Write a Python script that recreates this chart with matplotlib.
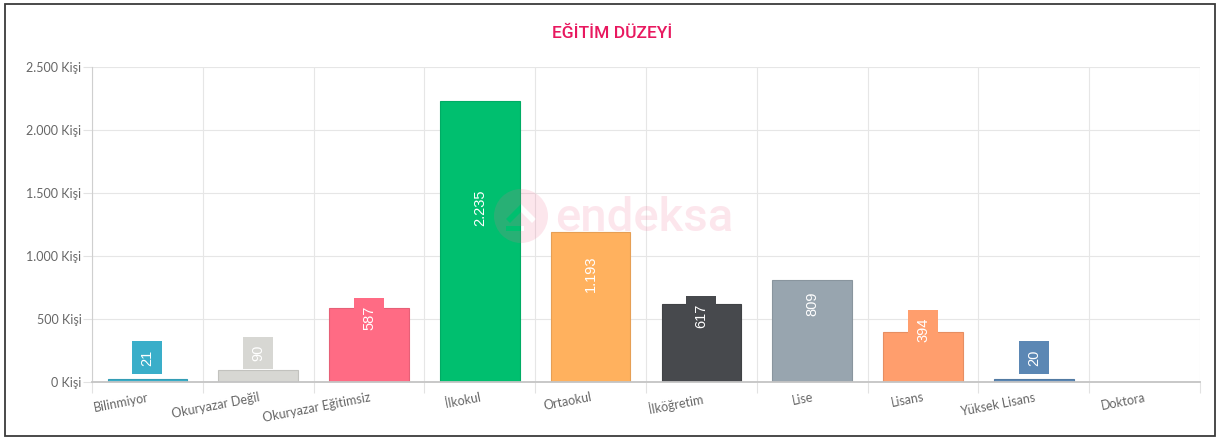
import matplotlib
matplotlib.use("Agg")
import matplotlib.pyplot as plt
from matplotlib.patches import Rectangle, PathPatch
from matplotlib.path import Path
from matplotlib.ticker import FixedLocator, FuncFormatter
import numpy as np

categories = ["Bilinmiyor", "Okuryazar Değil", "Okuryazar Eğitimsiz", "İlkokul",
              "Ortaokul", "İlköğretim", "Lise", "Lisans", "Yüksek Lisans", "Doktora"]
values = [21, 90, 587, 2235, 1193, 617, 809, 394, 20, 0]
colors = ["#3aaec9", "#d7d7d3", "#ff6b84", "#00bf6f", "#ffb15e",
          "#47494d", "#98a5af", "#ff9e6d", "#5b87b4", "#e6e6e6"]
y_ticks = [0, 500, 1000, 1500, 2000, 2500]
title = "EĞİTİM DÜZEYİ"

def fmt_num(v):
    return f"{v:,}".replace(",", ".")

W, H = 1224, 440
fig = plt.figure(figsize=(W / 100, H / 100), dpi=100)
fig.patch.set_facecolor("white")

# outer border
fig.add_artist(Rectangle((5 / W, 4 / H), 1210 / W, 432 / H, transform=fig.transFigure,
                         fill=False, edgecolor="#3a3a3a", linewidth=1.3))

ax = fig.add_axes([92 / W, (H - 381.5) / H, (1200 - 92) / W, (381.5 - 67.3) / H])
x = np.arange(len(categories))

def darker(c, f=0.9):
    r, g, b = matplotlib.colors.to_rgb(c)
    return (r * f, g * f, b * f)

ax.bar(x, values, width=0.72, color=colors,
       edgecolor=[darker(c) for c in colors], linewidth=0.8, zorder=3)

for xi, v, c in zip(x, values, colors):
    if v <= 0:
        continue
    ax.annotate(fmt_num(v), xy=(xi, v / 2), xytext=(0, 10.5), textcoords="offset points",
                rotation=90, ha="center", va="bottom", color="white", fontsize=10.5,
                family="Liberation Sans", zorder=5,
                bbox=dict(boxstyle="square,pad=0.55", facecolor=c, edgecolor="none"))

ax.set_xlim(-0.5, len(categories) - 0.5)
ax.set_ylim(0, 2500)
ax.yaxis.set_major_locator(FixedLocator(y_ticks))
ax.yaxis.set_major_formatter(FuncFormatter(lambda v, p: f"{fmt_num(int(v))} Kişi"))
ax.set_xticks(x)
ax.set_xticklabels(categories, rotation=11, ha="right", rotation_mode="anchor",
                   fontsize=9, color="#666666", family="Lato")
ax.set_xticks(np.arange(len(categories) + 1) - 0.5, minor=True)

for lab in ax.get_yticklabels():
    lab.set_family("Lato")
ax.tick_params(axis="y", labelsize=9, labelcolor="#666666", length=6.5, width=0.8,
               color="#e2e2e2", pad=1)
ax.tick_params(axis="x", which="major", length=0, pad=7)
ax.tick_params(axis="x", which="minor", length=8, width=0.8, color="#e2e2e2")

ax.grid(True, axis="y", which="major", color="#e6e6e6", linewidth=0.8, zorder=0)
ax.grid(True, axis="x", which="minor", color="#e6e6e6", linewidth=0.8, zorder=0)
ax.grid(False, axis="x", which="major")
ax.set_axisbelow(True)

for s in ["top", "right"]:
    ax.spines[s].set_visible(False)
ax.spines["left"].set_color("#cfcfcf")
ax.spines["left"].set_linewidth(0.8)
ax.spines["bottom"].set_color("#c4c4c4")
ax.spines["bottom"].set_linewidth(1.3)
ax.spines["bottom"].set_zorder(4)

fig.text(612 / W, (H - 33) / H, title, ha="center", va="center", color="#e8185f",
         fontsize=12.5, family="Roboto", fontweight="medium")

# watermark (drawn on top, translucent)
wm_color = "#f26b93"
cx, cy, r = 5.21, (H - 216) / 100, 0.27
circ = Path.circle((cx, cy), r)
def px(dx, dy):
    return (cx + dx / 100, cy - dy / 100)
chev = [px(-15, 3), px(-11, 7), px(0, -4), px(11, 7), px(15, 3), px(0, -12)][::-1]
chev = chev + [chev[0]]
barh = [px(-15, 10), px(-15, 15), px(3, 15), px(3, 10)][::-1]
barh = barh + [barh[0]]
verts = list(circ.vertices) + chev + barh
codes = list(circ.codes) + [Path.MOVETO] + [Path.LINETO] * 5 + [Path.CLOSEPOLY] \
        + [Path.MOVETO] + [Path.LINETO] * 3 + [Path.CLOSEPOLY]
wm_path = Path(verts, codes)
fig.add_artist(PathPatch(wm_path, transform=fig.dpi_scale_trans, facecolor=wm_color,
                         edgecolor="none", alpha=0.17, zorder=10))
fig.text(555 / W, (H - 231) / H, "endeksa", ha="left", va="baseline", color=wm_color,
         alpha=0.17, fontsize=34, family="Roboto", fontweight="medium", zorder=10)

fig.savefig("out.png", dpi=100, facecolor="white")
